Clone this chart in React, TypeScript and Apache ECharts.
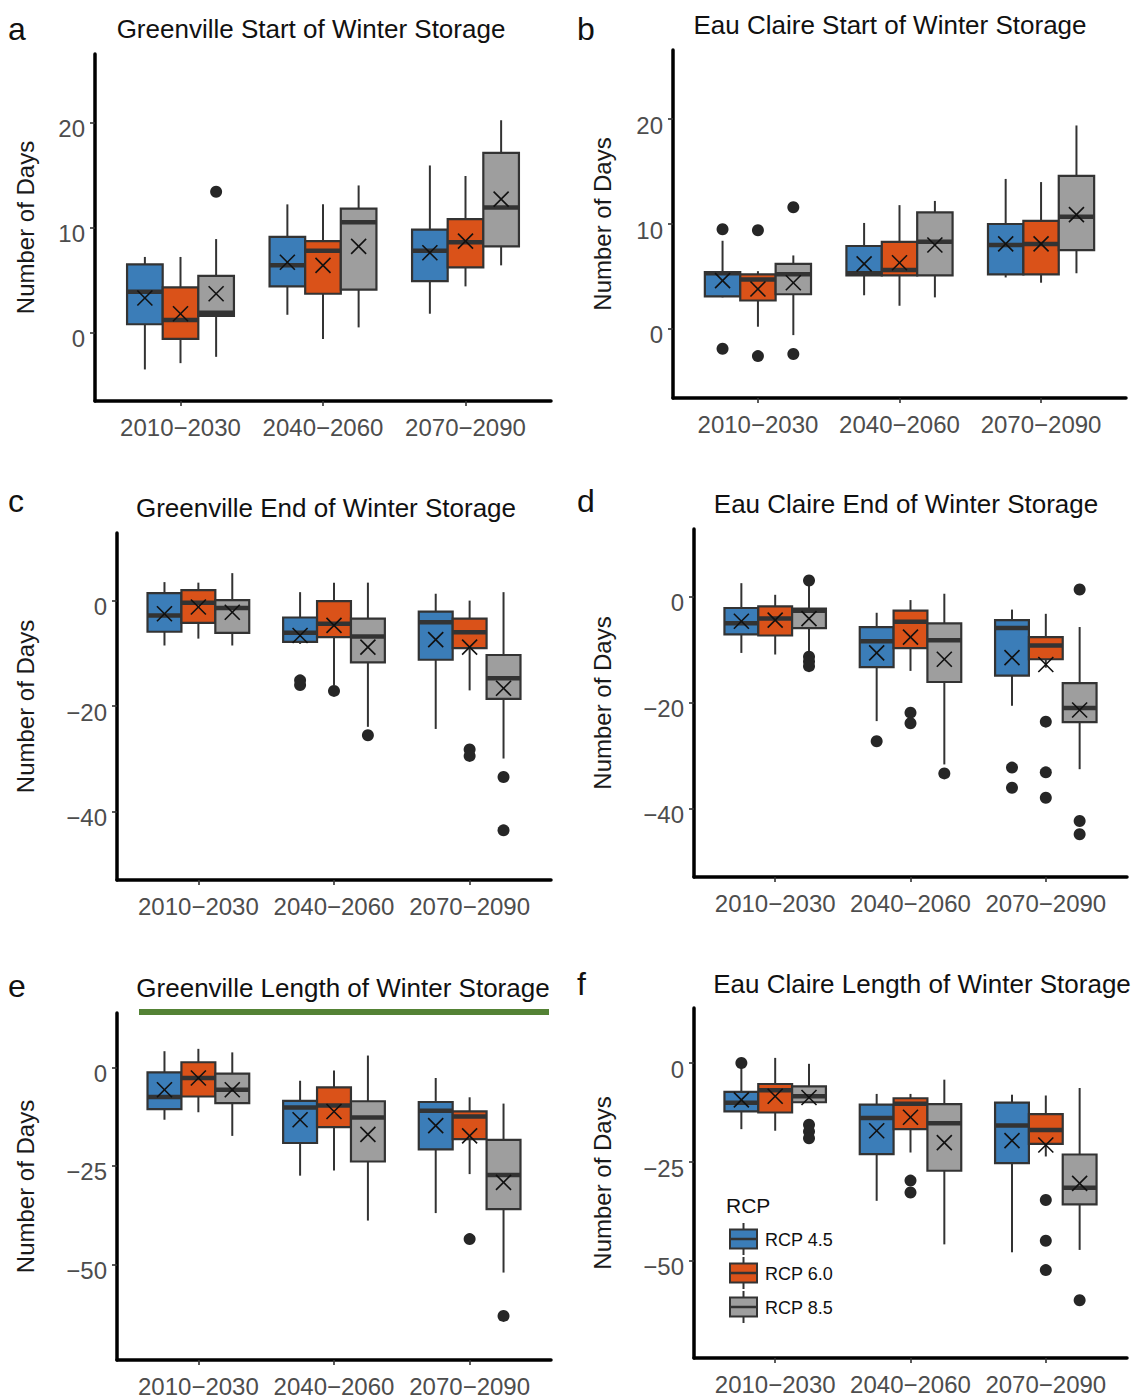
import React, { useEffect, useRef } from "react";
import * as echarts from "echarts";

// ---------- data ----------
const periods = ["2010−2030", "2040−2060", "2070−2090"];
const rcpNames = ["RCP 4.5", "RCP 6.0", "RCP 8.5"];

// box stats per period: [whiskerLow, Q1, median, Q3, whiskerHigh]
// (a) Greenville start
const gsBox45 = [[-3.5, 0.8, 3.9, 6.5, 7.2], [1.7, 4.4, 6.4, 9.1, 12.2], [1.8, 4.9, 7.8, 9.8, 15.9]];
const gsBox60 = [[-2.9, -0.6, 1.2, 4.3, 7.2], [-0.6, 3.7, 7.8, 8.7, 12.2], [4.4, 6.2, 8.6, 10.8, 14.9]];
const gsBox85 = [[-2.3, 1.6, 1.9, 5.4, 8.9], [0.5, 4.1, 10.5, 11.8, 14.0], [6.4, 8.2, 11.9, 17.1, 20.2]];
const gsMean = [[3.3, 6.7, 7.6], [1.8, 6.4, 8.7], [3.7, 8.2, 12.7]];
const gsOut = [[], [], [[0, 13.4]]];

// (b) Eau Claire start
const esBox45 = [[3.0, 3.1, 5.3, 5.4, 8.4], [3.2, 5.1, 5.3, 7.9, 10.1], [4.9, 5.2, 8.0, 10.0, 14.3]];
const esBox60 = [[0.2, 2.7, 4.7, 5.2, 5.5], [2.2, 5.1, 5.6, 8.3, 11.8], [4.4, 5.2, 8.1, 10.3, 14.0]];
const esBox85 = [[-0.6, 3.3, 5.2, 6.2, 7.0], [3.0, 5.1, 8.3, 11.1, 12.2], [5.3, 7.5, 10.7, 14.6, 19.4]];
const esMean = [[4.6, 6.2, 8.1], [3.8, 6.3, 8.1], [4.4, 8.0, 10.9]];
const esOut = [[[0, 9.5], [0, -1.9]], [[0, 9.4], [0, -2.6]], [[0, 11.6], [0, -2.4]]];

// (c) Greenville end
const geBox45 = [[-8.5, -5.9, -2.8, 1.4, 3.5], [-8.2, -7.8, -6.1, -3.2, 1.6], [-24.3, -11.2, -4.1, -2.1, 1.3]];
const geBox60 = [[-7.2, -4.2, -0.4, 2.0, 3.4], [-16.0, -6.9, -4.4, -0.1, 3.4], [-17.0, -9.0, -6.0, -3.4, 0.0]];
const geBox85 = [[-8.5, -6.1, -1.4, 0.1, 5.2], [-23.9, -11.7, -6.8, -3.4, 3.4], [-29.9, -18.6, -14.7, -10.3, 1.6]];
const geMean = [[-2.5, -6.6, -7.4], [-1.2, -4.7, -8.8], [-2.2, -8.8, -16.6]];
const geOut = [[[1, -15.1], [1, -16.0]], [[1, -17.1], [2, -28.2], [2, -29.4]], [[1, -25.5], [2, -33.4], [2, -43.5]]];

// (d) Eau Claire end
const eeBox45 = [[-10.6, -7.1, -5.0, -2.1, 2.6], [-23.5, -13.3, -8.4, -5.7, -3.0], [-20.6, -14.9, -5.9, -4.4, -2.4]];
const eeBox60 = [[-10.9, -7.3, -4.1, -1.8, 0.4], [-14.0, -9.7, -4.7, -2.6, -0.6], [-13.4, -11.8, -9.2, -7.6, -3.2]];
const eeBox85 = [[-10.3, -5.9, -2.6, -2.2, 2.6], [-31.7, -16.1, -8.2, -5.0, 0.6], [-32.6, -23.7, -21.0, -16.3, -5.7]];
const eeMean = [[-4.6, -10.6, -11.5], [-4.4, -7.6, -12.8], [-4.1, -11.8, -21.4]];
const eeOut = [
  [[1, -27.3], [2, -32.3], [2, -36.1]],
  [[1, -21.9], [1, -23.9], [2, -23.6], [2, -33.2], [2, -38.0]],
  [[0, 3.1], [0, -11.3], [0, -12.2], [0, -13.1], [1, -33.4], [2, 1.4], [2, -42.4], [2, -44.9]],
];

// (e) Greenville length
const glBox45 = [[-13.3, -10.6, -7.5, -1.3, 4.1], [-27.5, -19.2, -10.2, -8.5, -3.4], [-37.0, -20.8, -11.0, -8.8, -2.7]];
const glBox60 = [[-11.4, -7.4, -2.7, 1.3, 4.7], [-26.2, -15.2, -9.7, -5.1, -0.8], [-27.1, -18.2, -12.5, -11.2, -7.6]];
const glBox85 = [[-17.4, -9.1, -5.7, -1.6, 3.8], [-38.9, -23.9, -12.7, -8.6, 3.0], [-52.1, -36.0, -27.3, -18.4, -9.2]];
const glMean = [[-5.7, -13.3, -14.8], [-2.7, -11.2, -17.4], [-5.7, -17.0, -29.2]];
const glOut = [[], [[2, -43.6]], [[2, -63.1]]];

// (f) Eau Claire length
const elBox45 = [[-16.7, -12.2, -10.0, -7.3, -0.8], [-34.8, -23.0, -13.9, -10.5, -7.8], [-47.8, -25.3, -15.8, -10.0, -8.0]];
const elBox60 = [[-17.1, -12.5, -6.9, -5.3, 1.3], [-22.6, -16.7, -10.3, -8.9, -7.8], [-23.6, -20.4, -16.9, -12.9, -8.2]];
const elBox85 = [[-10.0, -9.9, -8.4, -5.9, -0.2], [-45.8, -27.2, -15.2, -10.4, -4.2], [-47.2, -35.7, -31.5, -23.1, -6.3]];
const elMean = [[-9.3, -17.1, -19.6], [-8.4, -13.7, -20.7], [-8.7, -20.1, -30.4]];
const elOut = [[[0, 0.0]], [[1, -29.7], [1, -32.7], [2, -34.6], [2, -44.9], [2, -52.3]], [[0, -15.6], [0, -17.3], [0, -19.0], [2, -59.9]]];

const startTicks = [0, 10, 20];
const endTicks = [-40, -20, 0];
const lengthTicks = [-50, -25, 0];

// ---------- style / layout ----------
const FONT = "'Liberation Sans', Arial, Helvetica, sans-serif";
const rcpColors = ["#3B7DB8", "#DA5219", "#9E9E9E"];
const EDGE = "#333333";
const dodge = [-0.25, 0, 0.25];

const panels = [
  { label: "a", title: "Greenville Start of Winter Storage", boxes: [gsBox45, gsBox60, gsBox85], means: gsMean, outs: gsOut, ticks: startTicks,
    grid: { left: 95, top: 54, width: 456, height: 347 }, yMin: -6.5, yMax: 26.5, nameGap: 58, titleX: 311, titleY: 29, labelX: 8, labelY: 29 },
  { label: "b", title: "Eau Claire Start of Winter Storage", boxes: [esBox45, esBox60, esBox85], means: esMean, outs: esOut, ticks: startTicks,
    grid: { left: 673, top: 50, width: 453, height: 348 }, yMin: -6.6, yMax: 26.6, nameGap: 59, titleX: 890, titleY: 25, labelX: 577, labelY: 29 },
  { label: "c", title: "Greenville End of Winter Storage", boxes: [geBox45, geBox60, geBox85], means: geMean, outs: geOut, ticks: endTicks,
    grid: { left: 117, top: 533, width: 434, height: 347 }, yMin: -52.9, yMax: 12.8, nameGap: 80, titleX: 326, titleY: 508, labelX: 8, labelY: 501 },
  { label: "d", title: "Eau Claire End of Winter Storage", boxes: [eeBox45, eeBox60, eeBox85], means: eeMean, outs: eeOut, ticks: endTicks,
    grid: { left: 694, top: 529, width: 433, height: 348 }, yMin: -53.0, yMax: 12.85, nameGap: 80, titleX: 906, titleY: 504, labelX: 577, labelY: 501 },
  { label: "e", title: "Greenville Length of Winter Storage", boxes: [glBox45, glBox60, glBox85], means: glMean, outs: glOut, ticks: lengthTicks,
    grid: { left: 117, top: 1013, width: 434, height: 347 }, yMin: -74.3, yMax: 13.8, nameGap: 80, titleX: 343, titleY: 988, labelX: 8, labelY: 986 },
  { label: "f", title: "Eau Claire Length of Winter Storage", boxes: [elBox45, elBox60, elBox85], means: elMean, outs: elOut, ticks: lengthTicks,
    grid: { left: 694, top: 1008, width: 433, height: 350 }, yMin: -74.5, yMax: 13.9, nameGap: 80, titleX: 922, titleY: 984, labelX: 577, labelY: 984 },
];

const fmtTick = (v: number) => (v < 0 ? "−" + Math.abs(v) : String(v));

function renderBox(color: string) {
  return (params: any, api: any) => {
    const x = api.value(0);
    const lo = api.coord([x, api.value(1)]);
    const q1 = api.coord([x, api.value(2)]);
    const md = api.coord([x, api.value(3)]);
    const q3 = api.coord([x, api.value(4)]);
    const hi = api.coord([x, api.value(5)]);
    const mn = api.coord([x, api.value(6)]);
    const w = api.size([0.25, 0])[0];
    const cx = lo[0];
    const h = 7.5;
    const lineStyle = { stroke: EDGE, lineWidth: 2 };
    return {
      type: "group",
      children: [
        { type: "line", shape: { x1: cx, y1: hi[1], x2: cx, y2: q3[1] }, style: lineStyle },
        { type: "line", shape: { x1: cx, y1: q1[1], x2: cx, y2: lo[1] }, style: lineStyle },
        { type: "rect", shape: { x: cx - w / 2, y: q3[1], width: w, height: q1[1] - q3[1] }, style: { fill: color, stroke: EDGE, lineWidth: 2.2 } },
        { type: "line", shape: { x1: cx - w / 2, y1: md[1], x2: cx + w / 2, y2: md[1] }, style: { stroke: EDGE, lineWidth: 4.5 } },
        { type: "line", shape: { x1: cx - h, y1: mn[1] - h, x2: cx + h, y2: mn[1] + h }, style: { stroke: "#111", lineWidth: 1.6 } },
        { type: "line", shape: { x1: cx - h, y1: mn[1] + h, x2: cx + h, y2: mn[1] - h }, style: { stroke: "#111", lineWidth: 1.6 } },
      ],
    };
  };
}

function buildOption() {
  const grid: any[] = [];
  const xAxis: any[] = [];
  const yAxis: any[] = [];
  const series: any[] = [];
  const graphic: any[] = [];

  panels.forEach((p, pi) => {
    grid.push({ ...p.grid, containLabel: false });
    xAxis.push({
      gridIndex: pi, type: "value", min: 0.4, max: 3.6,
      axisLine: { onZero: false, lineStyle: { color: "#000", width: 3.5 } },
      axisTick: { customValues: [1, 2, 3], length: 5, lineStyle: { color: "#333", width: 1.6 } },
      axisLabel: { customValues: [1, 2, 3], formatter: (v: number) => periods[Math.round(v) - 1] || "", fontSize: 24, color: "#4D4D4D", margin: 14, fontFamily: FONT },
      splitLine: { show: false },
    });
    yAxis.push({
      gridIndex: pi, type: "value", min: p.yMin, max: p.yMax,
      name: "Number of Days", nameLocation: "middle", nameGap: p.nameGap,
      nameTextStyle: { fontSize: 24, color: "#1a1a1a", fontFamily: FONT },
      axisLine: { show: true, onZero: false, lineStyle: { color: "#000", width: 3.5 } },
      axisTick: { show: true, customValues: p.ticks, length: 5, lineStyle: { color: "#333", width: 1.6 } },
      axisLabel: { customValues: p.ticks, formatter: fmtTick, fontSize: 24, color: "#4D4D4D", margin: 10, verticalAlign: "top", lineHeight: 12, fontFamily: FONT },
      splitLine: { show: false },
    });
    p.boxes.forEach((stats, ri) => {
      const data = stats.map((s, k) => [k + 1 + dodge[ri], s[0], s[1], s[2], s[3], s[4], p.means[ri][k]]);
      series.push({
        type: "custom", name: rcpNames[ri], xAxisIndex: pi, yAxisIndex: pi,
        renderItem: renderBox(rcpColors[ri]), data, z: 2,
        encode: { x: 0, y: [1, 2, 3, 4, 5, 6] },
      });
      const outs = p.outs[ri].map((o) => [o[0] + 1 + dodge[ri], o[1]]);
      series.push({
        type: "scatter", xAxisIndex: pi, yAxisIndex: pi, data: outs,
        symbol: "circle", symbolSize: 12, itemStyle: { color: "#262626", opacity: 1 }, z: 3,
        silent: true,
      });
    });
    graphic.push({
      type: "text", x: p.titleX, y: p.titleY,
      style: { text: p.title, fontSize: 26, fill: "#111", align: "center", verticalAlign: "middle", fontFamily: FONT },
    });
    graphic.push({
      type: "text", x: p.labelX, y: p.labelY,
      style: { text: p.label, fontSize: 32, fill: "#111", align: "left", verticalAlign: "middle", fontFamily: FONT },
    });
  });

  // green underline under panel e title
  graphic.push({ type: "rect", shape: { x: 139, y: 1009, width: 410, height: 6 }, style: { fill: "#548235" } });

  // legend inside panel f
  graphic.push({
    type: "text", x: 726, y: 1205,
    style: { text: "RCP", fontSize: 21, fill: "#111", align: "left", verticalAlign: "middle", fontFamily: FONT },
  });
  rcpNames.forEach((nm, i) => {
    const cy = 1239 + 34 * i;
    graphic.push({ type: "line", shape: { x1: 743.5, y1: cy - 16, x2: 743.5, y2: cy + 16 }, style: { stroke: EDGE, lineWidth: 2 } });
    graphic.push({ type: "rect", shape: { x: 730, y: cy - 9.5, width: 27, height: 19 }, style: { fill: rcpColors[i], stroke: EDGE, lineWidth: 2 } });
    graphic.push({ type: "line", shape: { x1: 730, y1: cy, x2: 757, y2: cy }, style: { stroke: EDGE, lineWidth: 2.5 } });
    graphic.push({
      type: "text", x: 765, y: cy + 1,
      style: { text: nm, fontSize: 18, fill: "#111", align: "left", verticalAlign: "middle", fontFamily: FONT },
    });
  });

  return {
    animation: false,
    backgroundColor: "#ffffff",
    textStyle: { fontFamily: FONT },
    grid, xAxis, yAxis, series, graphic,
  };
}

export default function App() {
  const ref = useRef<HTMLDivElement>(null);
  useEffect(() => {
    document.body.style.margin = "0";
    if (!ref.current) return;
    const chart = echarts.init(ref.current, null, { renderer: "svg" });
    chart.setOption(buildOption() as any);
    return () => chart.dispose();
  }, []);
  return <div ref={ref} style={{ width: 1132, height: 1398 }} />;
}
